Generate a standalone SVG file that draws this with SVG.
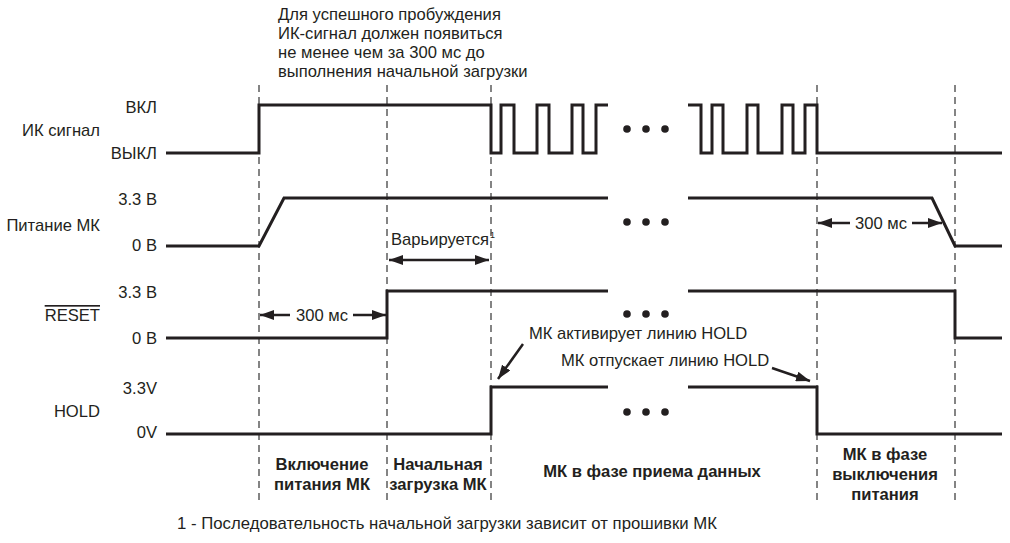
<svg xmlns="http://www.w3.org/2000/svg" width="1010" height="543" viewBox="0 0 1010 543">
<style>
text{font-family:"Liberation Sans",Arial,sans-serif;font-size:16.6px;fill:#231f20}
.r{text-anchor:end}
.m{text-anchor:middle}
.b{font-weight:bold;font-size:16.6px}
.sig{fill:none;stroke:#231f20;stroke-width:3;stroke-linejoin:miter}
.dash{stroke:#666;stroke-width:1.6;stroke-dasharray:7 5;fill:none}
.arr{stroke:#231f20;stroke-width:2.5;fill:none}
.dot{fill:#231f20}
</style>
<defs>
<marker id="ah" viewBox="0 0 14 10" refX="14" refY="5" markerWidth="14" markerHeight="10" markerUnits="userSpaceOnUse" orient="auto-start-reverse">
<path d="M0,0 L14,5 L0,10 Z" fill="#231f20"/>
</marker>
</defs>

<g id="note-top">
<text x="278" y="20">Для успешного пробуждения</text>
<text x="278" y="39">ИК-сигнал должен появиться</text>
<text x="278" y="58">не менее чем за 300 мс до</text>
<text x="278" y="77">выполнения начальной загрузки</text>
</g>

<g id="connectors">
<line class="dash" x1="259" y1="85" x2="259" y2="505"/>
<line class="dash" x1="387" y1="85" x2="387" y2="505"/>
<line class="dash" x1="491" y1="85" x2="491" y2="505"/>
<line class="dash" x1="817" y1="85" x2="817" y2="505"/>
<line class="dash" x1="955" y1="85" x2="955" y2="505"/>
<line class="arr" x1="389" y1="260" x2="489" y2="260" marker-start="url(#ah)" marker-end="url(#ah)"/>
<line class="arr" x1="290" y1="315" x2="260" y2="315" marker-end="url(#ah)"/>
<line class="arr" x1="353" y1="315" x2="386" y2="315" marker-end="url(#ah)"/>
<line class="arr" x1="850" y1="223" x2="818" y2="223" marker-end="url(#ah)"/>
<line class="arr" x1="912" y1="223" x2="942" y2="223" marker-end="url(#ah)"/>
<line class="arr" x1="523" y1="344" x2="498" y2="379" marker-end="url(#ah)"/>
<line class="arr" x1="772" y1="368" x2="810" y2="381" marker-end="url(#ah)"/>
</g>

<g id="ir-signal">
<text x="100" y="136" class="r">ИК сигнал</text>
<text x="157" y="113" class="r">ВКЛ</text>
<text x="157" y="159" class="r">ВЫКЛ</text>
<path class="sig" d="M166,153 H259 V105 H491 V153 H501 V105 H514 V153 H537 V105 H549 V153 H572 V105 H583 V153 H596 V105 H608"/>
<path class="sig" d="M688,105 H701 V153 H712 V105 H723 V153 H747 V105 H758 V153 H782 V105 H793 V153 H805 V105 H817 V153 H1002"/>
<circle class="dot" cx="627" cy="129" r="3.8"/><circle class="dot" cx="646" cy="129" r="3.8"/><circle class="dot" cx="665" cy="129" r="3.8"/>
</g>

<g id="mcu-power">
<text x="100" y="231" class="r">Питание МК</text>
<text x="157" y="205" class="r">3.3 В</text>
<text x="157" y="251" class="r">0 В</text>
<path class="sig" d="M166,246 H259 L284,198 H608"/>
<path class="sig" d="M688,198 H932 L955,246 H1002"/>
<circle class="dot" cx="627" cy="222" r="3.8"/><circle class="dot" cx="646" cy="222" r="3.8"/><circle class="dot" cx="665" cy="222" r="3.8"/>
<text x="391" y="245" font-size="15">Варьируется<tspan font-size="9" dy="-7" dx="1">1</tspan></text>
<text x="881" y="229" class="m">300 мс</text>
</g>

<g id="reset">
<text x="100" y="321" class="r" text-decoration="overline">RESET</text>
<text x="157" y="298" class="r">3.3 В</text>
<text x="157" y="344" class="r">0 В</text>
<path class="sig" d="M166,338 H387 V291 H608"/>
<path class="sig" d="M688,291 H955 V338 H1002"/>
<circle class="dot" cx="627" cy="314" r="3.8"/><circle class="dot" cx="646" cy="314" r="3.8"/><circle class="dot" cx="665" cy="314" r="3.8"/>
<text x="322" y="321" class="m">300 мс</text>
</g>

<g id="hold">
<text x="100" y="417" class="r">HOLD</text>
<text x="157" y="394" class="r">3.3V</text>
<text x="157" y="438" class="r">0V</text>
<path class="sig" d="M166,434 H491 V387 H608"/>
<path class="sig" d="M688,387 H817 V434 H1002"/>
<circle class="dot" cx="627" cy="412" r="3.8"/><circle class="dot" cx="646" cy="412" r="3.8"/><circle class="dot" cx="665" cy="412" r="3.8"/>
<text x="529" y="339">МК активирует линию HOLD</text>
<text x="561" y="366">МК отпускает линию HOLD</text>
</g>

<g id="phases">
<text x="322" y="470" class="m b">Включение</text>
<text x="322" y="490" class="m b">питания МК</text>
<text x="438" y="470" class="m b">Начальная</text>
<text x="438" y="490" class="m b">загрузка МК</text>
<text x="652" y="477" class="m b">МК в фазе приема данных</text>
<text x="885" y="460" class="m b">МК в фазе</text>
<text x="885" y="480" class="m b">выключения</text>
<text x="885" y="500" class="m b">питания</text>
</g>

<g id="footnote">
<text x="177" y="529" textLength="540" lengthAdjust="spacingAndGlyphs">1 - Последовательность начальной загрузки зависит от прошивки МК</text>
</g>
</svg>
